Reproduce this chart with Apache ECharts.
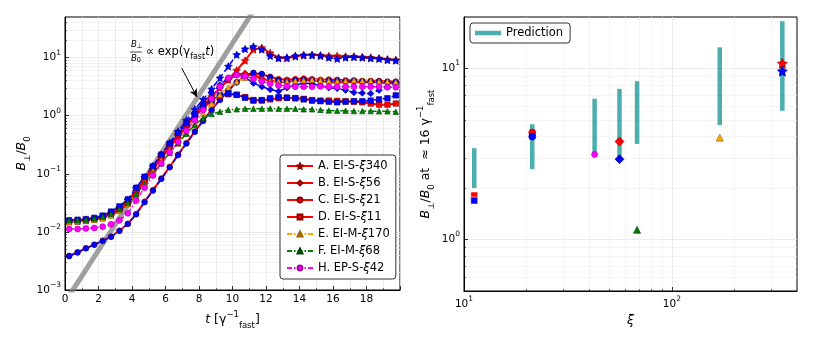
<!DOCTYPE html>
<html>
<head>
<meta charset="utf-8">
<script src="https://cdn.jsdelivr.net/npm/echarts@6/dist/echarts.min.js"></script>
<style>
html, body { margin: 0; padding: 0; background: #fff; }
#main { width: 822px; height: 343px; }
</style>
</head>
<body>
<div id="main"></div>
<script>
// time samples (units of 1/gamma_fast)
var times = [0.25, 0.75, 1.25, 1.75, 2.25, 2.75, 3.25, 3.75, 4.25, 4.75,
  5.25, 5.75, 6.25, 6.75, 7.25, 7.75, 8.25, 8.75, 9.25, 9.75,
  10.25, 10.75, 11.25, 11.75, 12.25, 12.75, 13.25, 13.75, 14.25, 14.75,
  15.25, 15.75, 16.25, 16.75, 17.25, 17.75, 18.25, 18.75, 19.25, 19.75];

// B_perp / B_0, red (legend) runs and their blue companions
var aRed = [0.0151, 0.0155, 0.0158, 0.0166, 0.0178, 0.0200, 0.0240, 0.0316, 0.0479, 0.0759,
  0.120, 0.191, 0.295, 0.457, 0.692, 1.05, 1.51, 2.14, 3.02, 4.17,
  6.03, 8.91, 13.8, 14.8, 12.0, 10.0, 9.77, 10.5, 11.0, 11.2,
  11.0, 10.7, 10.7, 10.5, 10.5, 10.2, 10.0, 9.77, 9.33, 9.12];
var aBlue = [0.0155, 0.0155, 0.0162, 0.0170, 0.0182, 0.0209, 0.0257, 0.0355, 0.0562, 0.0870,
  0.135, 0.214, 0.339, 0.537, 0.832, 1.29, 1.91, 2.88, 4.47, 7.08,
  11.2, 14.1, 15.5, 13.8, 10.7, 9.77, 10.0, 10.7, 11.0, 11.0,
  10.7, 10.0, 9.55, 10.0, 10.2, 10.0, 9.77, 9.55, 9.12, 8.91];
var bRed = [0.0151, 0.0151, 0.0158, 0.0162, 0.0174, 0.0195, 0.0234, 0.0302, 0.0457, 0.0724,
  0.115, 0.182, 0.282, 0.427, 0.646, 0.955, 1.41, 2.09, 3.02, 4.17,
  5.01, 5.37, 5.01, 4.37, 3.98, 3.80, 3.80, 3.98, 3.98, 4.07,
  3.98, 3.80, 3.72, 3.80, 3.80, 3.72, 3.80, 3.72, 3.63, 3.63];
var bBlue = [0.0155, 0.0158, 0.0162, 0.0166, 0.0178, 0.0204, 0.0251, 0.0331, 0.0513, 0.0794,
  0.123, 0.200, 0.316, 0.490, 0.759, 1.15, 1.70, 2.45, 3.39, 4.47,
  5.13, 4.57, 3.63, 3.16, 2.82, 2.63, 3.02, 3.39, 3.63, 3.55,
  3.31, 3.02, 2.95, 2.75, 2.51, 2.45, 2.40, 2.75, 3.16, 3.55];
var cRed = [0.00389, 0.00447, 0.00525, 0.00603, 0.00708, 0.00832, 0.0105, 0.0138, 0.0204, 0.0331,
  0.0525, 0.0832, 0.132, 0.214, 0.339, 0.537, 0.832, 1.26, 1.91, 2.75,
  3.80, 4.79, 5.37, 5.13, 4.68, 4.27, 4.17, 4.27, 4.37, 4.27,
  4.17, 4.22, 4.17, 4.07, 4.07, 3.98, 3.98, 3.98, 3.89, 3.89];
var cBlue = [0.00380, 0.00440, 0.00520, 0.00600, 0.00700, 0.00820, 0.0104, 0.0137, 0.0200, 0.0324,
  0.0513, 0.0813, 0.129, 0.209, 0.331, 0.525, 0.813, 1.23, 1.86, 2.69,
  3.72, 4.68, 5.50, 5.25, 4.57, 4.07, 3.89, 4.07, 4.17, 4.07,
  3.89, 4.00, 3.98, 3.89, 3.98, 3.89, 3.80, 3.89, 3.80, 3.80];
var dRed = [0.0151, 0.0155, 0.0158, 0.0166, 0.0182, 0.0209, 0.0251, 0.0331, 0.0525, 0.0813,
  0.126, 0.200, 0.309, 0.468, 0.692, 1.00, 1.38, 1.78, 2.14, 2.34,
  2.29, 2.09, 1.86, 1.82, 1.91, 2.00, 2.04, 2.00, 1.95, 1.86,
  1.82, 1.82, 1.80, 1.78, 1.74, 1.70, 1.62, 1.55, 1.55, 1.62];
var dBlue = [0.0158, 0.0162, 0.0166, 0.0174, 0.0191, 0.0224, 0.0275, 0.0363, 0.0575, 0.0891,
  0.135, 0.214, 0.331, 0.501, 0.741, 1.05, 1.45, 1.86, 2.24, 2.40,
  2.29, 2.04, 1.82, 1.86, 2.00, 2.09, 2.04, 2.00, 1.91, 1.82,
  1.78, 1.74, 1.70, 1.74, 1.78, 1.78, 1.82, 1.91, 2.00, 2.24];
var eOrange = [0.0148, 0.0151, 0.0155, 0.0162, 0.0170, 0.0191, 0.0229, 0.0302, 0.0447, 0.0692,
  0.110, 0.170, 0.257, 0.331, 0.501, 0.741, 1.10, 1.62, 2.29, 3.09,
  3.89, 4.47, 4.47, 4.17, 3.98, 3.89, 3.89, 3.98, 4.07, 4.17,
  4.07, 3.98, 3.94, 3.98, 4.07, 3.98, 3.98, 3.89, 3.89, 3.80];
var fGreen = [0.0158, 0.0158, 0.0162, 0.0170, 0.0182, 0.0204, 0.0245, 0.0316, 0.0447, 0.0661,
  0.100, 0.151, 0.229, 0.339, 0.490, 0.692, 0.912, 1.07, 1.17, 1.26,
  1.29, 1.32, 1.32, 1.32, 1.33, 1.32, 1.32, 1.32, 1.29, 1.29,
  1.26, 1.23, 1.22, 1.22, 1.20, 1.20, 1.20, 1.19, 1.19, 1.17];
var hMagenta = [0.0112, 0.0112, 0.0115, 0.0117, 0.0123, 0.0135, 0.0158, 0.0209, 0.0347, 0.0575,
  0.0933, 0.151, 0.234, 0.355, 0.550, 0.832, 1.26, 1.95, 3.16, 4.47,
  5.01, 4.79, 4.37, 3.89, 3.55, 3.31, 3.24, 3.16, 3.16, 3.16,
  3.20, 3.16, 3.14, 3.16, 3.16, 3.16, 3.16, 3.16, 3.09, 3.09];

// exp(gamma_fast t) guide line end points and the annotation arrow
var guideLine = [[0, 0.00062], [12, 137]];
var arrowFrom = [6.97, 6.6];
var arrowTo = [7.88, 2.1];

var runNames = ['A. EI-S-ξ340', 'B. EI-S-ξ56', 'C. EI-S-ξ21', 'D. EI-S-ξ11',
  'E. EI-M-ξ170', 'F. EI-M-ξ68', 'H. EP-S-ξ42'];

// right panel: prediction ranges and values at t ~ 16
var predXi = [11.2, 21.3, 42.5, 56, 68, 170, 340];
var predLow = [2.0, 2.58, 3.13, 2.99, 3.62, 4.67, 5.66];
var predHigh = [3.42, 4.72, 6.65, 7.6, 8.43, 13.3, 18.9];
var runXi = [340, 56, 21.3, 11.2, 170, 68, 42.5];
var satMain = [10.7, 3.74, 4.22, 1.81, 3.94, 1.14, 3.14];
var satBlue = [9.64, 2.95, 4.00, 1.69];

var FONT = 'DejaVu Sans';
var STAR = 'path://M0,-10 L2.94,-4.05 9.51,-3.09 4.76,1.55 5.88,8.09 0,5 -5.88,8.09 -4.76,1.55 -9.51,-3.09 -2.94,-4.05Z';
var DASHDOT = [5, 2, 1.5, 2];
var GRID_C = '#e6e6e6';
var MINOR_C = '#efefef';

function rt(size, extra) {
  var o = {fontFamily: FONT, fontSize: size, color: '#000', fill: '#000'};
  for (var k in extra) o[k] = extra[k];
  return o;
}
var labelRich = {
  b: rt(10.5, {lineHeight: 18}),
  e: rt(7.5, {verticalAlign: 'top', lineHeight: 9})
};
var nameRich = {
  n: rt(12.5, {lineHeight: 20}),
  i: rt(12.5, {fontStyle: 'italic', lineHeight: 20}),
  s: rt(8.5, {verticalAlign: 'bottom', lineHeight: 10}),
  p: rt(8.5, {verticalAlign: 'top', lineHeight: 10})
};
function powLabel(v) {
  var e = Math.round(Math.log(v) / Math.LN10);
  return '{b|10}{e|' + (e < 0 ? '\u2212' + (-e) : e) + '}';
}
function minorList(lo, hi, extraTop) {
  var out = [];
  for (var d = lo; d <= hi; d++) {
    for (var k = 2; k <= 9; k++) {
      out.push(parseFloat((k * Math.pow(10, d)).toPrecision(3)));
    }
  }
  return out.concat(extraTop || []);
}
var leftYMinor = minorList(-3, 0, [20, 30, 40]);
var rightXMinor = [20, 30, 40, 50, 60, 70, 80, 90, 200, 300];
var rightYMinor = [0.6, 0.7, 0.8, 0.9, 2, 3, 4, 5, 6, 7, 8, 9];

function majorLog(grid, dir, min, max, ticks, extra) {
  var ax = {
    gridIndex: grid, type: 'log', logBase: 10, min: min, max: max, position: dir,
    axisLine: {show: true, onZero: false, lineStyle: {color: '#000', width: 1}},
    axisTick: {show: true, inside: true, length: 4, customValues: ticks, lineStyle: {color: '#000', width: 0.8}},
    axisLabel: {customValues: ticks, formatter: powLabel, rich: labelRich, margin: 4, color: '#000'},
    splitLine: {show: true, lineStyle: {color: GRID_C, width: 0.8}},
    nameLocation: 'middle', nameTextStyle: {rich: nameRich}
  };
  for (var k in extra) ax[k] = extra[k];
  return ax;
}
function minorLog(grid, dir, min, max, ticks) {
  return {
    gridIndex: grid, type: 'log', logBase: 10, min: min, max: max, position: dir, offset: 0,
    axisLine: {show: false},
    axisTick: {show: true, inside: true, length: 2, customValues: ticks, lineStyle: {color: '#000', width: 0.6}},
    axisLabel: {show: false},
    splitLine: {show: true, lineStyle: {color: MINOR_C, width: 0.7}}
  };
}

function curve(name, vals, color, edge, symbol, size, dash, width) {
  return {
    name: name, type: 'line', xAxisIndex: 0, yAxisIndex: 0,
    data: times.map(function (t, i) { return [t, vals[i]]; }),
    symbol: symbol, symbolSize: size, showSymbol: true, clip: true,
    lineStyle: {color: color, width: width, type: dash},
    itemStyle: {color: color, borderColor: edge, borderWidth: 0.6},
    emphasis: {disabled: true}
  };
}
function dot(name, xi, val, color, edge, symbol, size) {
  return {
    name: name, type: 'scatter', xAxisIndex: 1, yAxisIndex: 2,
    data: [[xi, val]], symbol: symbol, symbolSize: size,
    itemStyle: {color: color, borderColor: edge, borderWidth: 0.6, opacity: 1},
    emphasis: {disabled: true}
  };
}

var RED = '#ff0000', RED_E = '#8b0000', BLUE = '#0000ff', BLUE_E = '#00008b';

var series = [
  {
    name: 'guide', type: 'line', xAxisIndex: 0, yAxisIndex: 0, data: guideLine,
    symbol: 'none', clip: true, lineStyle: {color: 'rgba(128,128,128,0.75)', width: 5},
    emphasis: {disabled: true},
    markLine: {
      silent: true, symbol: ['none', 'arrow'], symbolSize: [6, 8],
      lineStyle: {color: '#000', width: 1, type: 'solid'}, label: {show: false},
      data: [[{coord: arrowFrom}, {coord: arrowTo}]]
    }
  },
  curve(runNames[0], aRed, RED, RED_E, STAR, 7.5, 'solid', 2),
  curve('A blue', aBlue, BLUE, BLUE_E, STAR, 7.5, 'dashed', 1.5),
  curve(runNames[1], bRed, RED, RED_E, 'diamond', 6.5, 'solid', 2),
  curve('B blue', bBlue, BLUE, BLUE_E, 'diamond', 6.5, 'dashed', 1.5),
  curve(runNames[2], cRed, RED, RED_E, 'circle', 5.5, 'solid', 2),
  curve('C blue', cBlue, BLUE, BLUE_E, 'circle', 5.5, 'dashed', 1.5),
  curve(runNames[3], dRed, RED, RED_E, 'rect', 5.5, 'solid', 2),
  curve('D blue', dBlue, BLUE, BLUE_E, 'rect', 5.5, 'dashed', 1.5),
  curve(runNames[4], eOrange, '#ffa500', '#a06000', 'triangle', 5.5, DASHDOT, 1.5),
  curve(runNames[5], fGreen, '#008000', '#004000', 'triangle', 5.5, DASHDOT, 1.5),
  curve(runNames[6], hMagenta, '#ff00ff', '#a000a0', 'circle', 6, DASHDOT, 1.5),
  {
    name: 'Prediction', type: 'custom', xAxisIndex: 1, yAxisIndex: 2,
    data: predXi.map(function (x, i) { return [x, predLow[i], predHigh[i]]; }),
    encode: {x: 0, y: [1, 2]},
    itemStyle: {color: 'rgba(0,139,139,0.7)'},
    renderItem: function (params, api) {
      var p1 = api.coord([api.value(0), api.value(1)]);
      var p2 = api.coord([api.value(0), api.value(2)]);
      return {
        type: 'line',
        shape: {x1: p1[0], y1: p1[1], x2: p2[0], y2: p2[1]},
        style: {stroke: 'rgba(0,139,139,0.7)', lineWidth: 4.5}
      };
    }
  },
  dot('pD', runXi[3], satMain[3], RED, '#ffffff', 'rect', 7),
  dot('pDb', runXi[3], satBlue[3], BLUE, '#ffffff', 'rect', 7),
  dot('pC', runXi[2], satMain[2], RED, RED_E, 'circle', 7),
  dot('pCb', runXi[2], satBlue[2], BLUE, BLUE_E, 'circle', 7),
  dot('pH', runXi[6], satMain[6], '#ff00ff', '#a000a0', 'circle', 6),
  dot('pB', runXi[1], satMain[1], RED, RED_E, 'diamond', 9),
  dot('pBb', runXi[1], satBlue[1], BLUE, BLUE_E, 'diamond', 9),
  dot('pF', runXi[5], satMain[5], '#008000', '#004000', 'triangle', 7),
  dot('pE', runXi[4], satMain[4], '#ffa500', '#a06000', 'triangle', 7),
  dot('pA', runXi[0], satMain[0], RED, RED_E, STAR, 10),
  dot('pAb', runXi[0], satBlue[0], BLUE, BLUE_E, STAR, 10)
];

var chart = echarts.init(document.getElementById('main'), null, {renderer: 'canvas'});
chart.setOption({
  animation: false,
  backgroundColor: '#fff',
  textStyle: {fontFamily: FONT, color: '#000'},
  grid: [
    {left: 65, top: 17, width: 335, height: 273, show: true, borderColor: '#000', borderWidth: 1,
      backgroundColor: 'transparent', containLabel: false, outerBoundsMode: 'none'},
    {left: 464, top: 17, width: 333, height: 274, show: true, borderColor: '#000', borderWidth: 1,
      backgroundColor: 'transparent', containLabel: false, outerBoundsMode: 'none'}
  ],
  xAxis: [
    {
      gridIndex: 0, type: 'value', min: 0, max: 20, interval: 2, position: 'bottom',
      name: '{i|t}{n| [γ}{p|\u22121}{s|fast}{n|]}', nameLocation: 'middle', nameGap: 20,
      nameTextStyle: {rich: nameRich},
      axisLine: {show: true, onZero: false, lineStyle: {color: '#000', width: 1}},
      axisTick: {show: true, inside: true, length: 4, lineStyle: {color: '#000', width: 0.8}},
      minorTick: {show: true, splitNumber: 2, length: 2, lineStyle: {color: '#000', width: 0.6}},
      axisLabel: {color: '#000', fontFamily: FONT, fontSize: 10.5, margin: 4, showMaxLabel: false},
      splitLine: {show: true, lineStyle: {color: GRID_C, width: 0.8}},
      minorSplitLine: {show: true, lineStyle: {color: GRID_C, width: 0.8}}
    },
    majorLog(1, 'bottom', 10, 400, [10, 100], {name: '{i|ξ}', nameGap: 15}),
    minorLog(1, 'bottom', 10, 400, rightXMinor)
  ],
  yAxis: [
    majorLog(0, 'left', 0.001, 50, [0.001, 0.01, 0.1, 1, 10],
      {name: '{i|B}{s|⊥}{n|/}{i|B}{s|0}', nameGap: 33, nameRotate: 90}),
    minorLog(0, 'left', 0.001, 50, leftYMinor),
    majorLog(1, 'left', 0.5, 20, [1, 10],
      {name: '{i|B}{s|⊥}{n|/}{i|B}{s|0}{n| at  ≈ 16 γ}{p|\u22121}{s|fast}', nameGap: 28, nameRotate: 90}),
    minorLog(1, 'left', 0.5, 20, rightYMinor)
  ],
  legend: [
    {
      data: runNames, orient: 'vertical', left: 280, top: 155,
      itemGap: 5, itemWidth: 26, itemHeight: 6, padding: [5, 6, 5, 6],
      borderColor: '#333', borderWidth: 1, borderRadius: 3, backgroundColor: '#fff',
      selectedMode: false,
      formatter: function (n) { return n.replace('ξ', '{x|ξ}'); },
      textStyle: {fontFamily: FONT, fontSize: 11.5, color: '#000',
        rich: {x: rt(11.5, {fontStyle: 'italic'})}}
    },
    {
      data: [{name: 'Prediction', icon: 'rect'}], left: 470, top: 23,
      itemWidth: 26, itemHeight: 4.5, padding: [4, 7, 4, 5],
      borderColor: '#333', borderWidth: 1, borderRadius: 3, backgroundColor: '#fff',
      selectedMode: false,
      textStyle: {fontFamily: FONT, fontSize: 11.5, color: '#000'}
    }
  ],
  graphic: [
    {type: 'text', x: 131, y: 39, z: 50, style: {text: '{i|B}{s|⊥}', rich: {
      i: rt(8.5, {fontStyle: 'italic', lineHeight: 11}),
      s: rt(6.5, {verticalAlign: 'bottom', lineHeight: 7})}}},
    {type: 'line', z: 50, shape: {x1: 130, y1: 52, x2: 142, y2: 52}, style: {stroke: '#000', lineWidth: 0.7}},
    {type: 'text', x: 131, y: 53, z: 50, style: {text: '{i|B}{s|0}', rich: {
      i: rt(8.5, {fontStyle: 'italic', lineHeight: 11}),
      s: rt(6.5, {verticalAlign: 'bottom', lineHeight: 7})}}},
    {type: 'text', x: 146, y: 43, z: 50, style: {text: '{n|∝ exp(γ}{s|fast}{i|t}{n|)}', rich: {
      n: rt(11.5, {lineHeight: 18}),
      i: rt(11.5, {fontStyle: 'italic', lineHeight: 18}),
      s: rt(8, {verticalAlign: 'bottom', lineHeight: 9})}}}
  ],
  series: series
});
</script>
</body>
</html>
